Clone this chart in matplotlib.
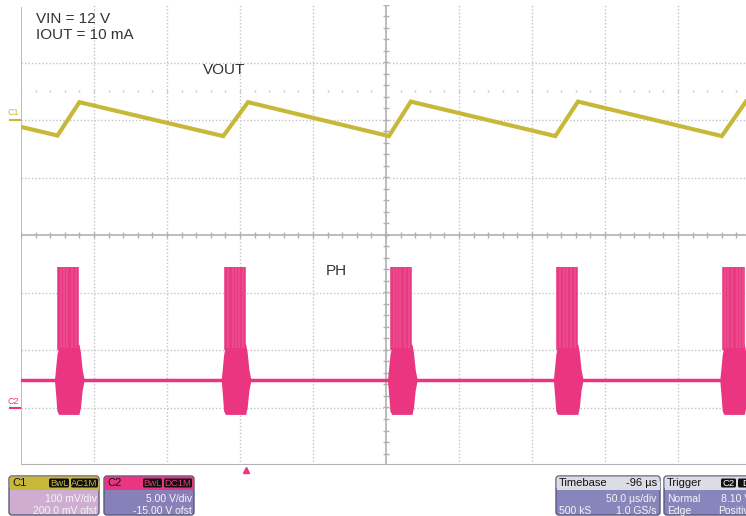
import numpy as np
import matplotlib
matplotlib.use("Agg")
import matplotlib.pyplot as plt
from matplotlib.patches import FancyBboxPatch, Rectangle

plt.rcParams["font.family"] = ["Liberation Sans", "DejaVu Sans"]

# =========================
# SCOPE SETTINGS
# =========================
c1_scale = 100.0      # mV/div
c1_offset = 200.0     # mV
c2_scale = 5.0        # V/div
c2_offset = -15.0     # V
time_per_div = 50.0   # us/div
trigger_time = -96.0  # us

# =========================
# DATA
# =========================
# C1 = VOUT ripple, time in us, value in mV
vout_t = [-250, -225, -210, -111.5, -94.5, 2, 17, 116, 131.5, 230, 246.5]
vout_mv = [-12, -27, 31, -28, 31, -28, 32, -28, 32, -28, 32]

# C2 = PH node, volts
ph_baseline = 2.4
ph_high = 12.2
burst_t = [-224.7, -110.5, 3.4, 117.0, 231.0]   # first switching pulse of each burst

# burst envelope relative to first pulse (us, V)
env_dt = [-2.4, -1.6, -0.7, 0.5, 14.4, 15.4, 16.6, 18.0]
env_top = [2.4, 3.4, 4.6, 5.4, 5.5, 4.8, 3.3, 2.4]
env_bot = [2.4, 1.2, -0.3, -0.6, -0.6, 0.0, 1.5, 2.4]
spike_dt = [0, 0.8, 1.6, 2.9, 3.7, 4.5, 5.3, 6.6, 7.4, 8.2, 9.0, 10.3, 11.1, 11.9, 13.1, 14.0]

c1_color = "#c8b83a"
c2_color = "#ea3580"
grid_color = "#c4c4c4"
axis_color = "#b0b0b0"


def c1_div(mv):
    return (np.asarray(mv) + c1_offset) / c1_scale


def c2_div(v):
    return (np.asarray(v) + c2_offset) / c2_scale


# =========================
# FIGURE
# =========================
W, H = 746, 516
fig = plt.figure(figsize=(W / 100, H / 100), dpi=100)
fig.patch.set_facecolor("white")

ax = fig.add_axes([21 / W, 51 / H, 730 / W, 460 / H])
ax.set_xlim(-5 * time_per_div, 5 * time_per_div)
ax.set_ylim(-4, 4)
ax.axis("off")

# grid
for k in range(-4, 5):
    if k == 0:
        continue
    ax.axvline(k * time_per_div, color=grid_color, lw=1, ls=(0, (1, 1.5)), zorder=1)
for k in range(-3, 4):
    if k == 0:
        continue
    ax.axhline(k, color=grid_color, lw=1, ls=(0, (1, 1.5)), zorder=1)

ax.axvline(0, color=axis_color, lw=1.2, zorder=1)
ax.axhline(0, color=axis_color, lw=1.2, zorder=1)
ax.plot([-250, -250], [-4, 3.95], color=axis_color, lw=1.2, zorder=1)
ax.axhline(-4, color=axis_color, lw=1.5, zorder=1)

# minor ticks on centre lines
minor_x = np.arange(-5, 5.01, 0.2) * time_per_div
ax.vlines(minor_x, -0.06, 0.06, color=axis_color, lw=1, zorder=1)
minor_y = np.arange(-4, 4.01, 0.2)
ax.hlines(minor_y, -1.8, 1.8, color=axis_color, lw=1, zorder=1)
ax.plot(minor_x, np.full(len(minor_x), 2.5), ls="none", marker="|",
        ms=2, color=grid_color, zorder=1)

# C1 trace
ax.plot(vout_t, c1_div(vout_mv), color=c1_color, lw=3, solid_joinstyle="miter", zorder=3)

# C2 trace
ax.plot([-250, 250], c2_div([ph_baseline, ph_baseline]), color=c2_color, lw=2.5, zorder=3)
for t0 in burst_t:
    tt = t0 + np.array(env_dt)
    ax.fill_between(tt, c2_div(env_top), c2_div(env_bot), color=c2_color, lw=0, zorder=3)
    ax.fill_between([t0 + spike_dt[0], t0 + spike_dt[-1]], c2_div(5.2), c2_div(ph_high),
                    color="#f391b9", lw=0, zorder=3)
    ax.vlines(t0 + np.array(spike_dt), c2_div(5.0), c2_div(ph_high),
              color=c2_color, lw=1.1, zorder=4)

# trigger marker
ax.plot([trigger_time], [-4.09], marker="^", ms=5, color=c2_color, clip_on=False, zorder=5)

# channel reference markers
ax.plot([-257.5, -251], [c1_offset / c1_scale] * 2, color=c1_color, lw=1.5, clip_on=False)
ax.plot([-257.5, -251], [c2_offset / c2_scale] * 2, color=c2_color, lw=1.5, clip_on=False)

# =========================
# OVERLAY (pixel coords)
# =========================
ov = fig.add_axes([0, 0, 1, 1])
ov.set_xlim(0, W)
ov.set_ylim(H, 0)
ov.axis("off")
ov.patch.set_alpha(0)

ov.text(8, 115, "C1", fontsize=6.5, color=c1_color)
ov.text(8, 404, "C2", fontsize=6.5, color=c2_color)

ov.text(36, 23, "VIN = 12 V", fontsize=11, color="#333333")
ov.text(36, 39, "IOUT = 10 mA", fontsize=11, color="#333333")
ov.text(203, 74, "VOUT", fontsize=11, color="#333333")
ov.text(326, 275, "PH", fontsize=11, color="#333333")


def info_box(x0, x1, head_color, body_color, head_text, head_text_color="#111111"):
    y0, y1, yh = 476, 515, 489
    ov.add_patch(FancyBboxPatch((x0, y0), x1 - x0, y1 - y0,
                                boxstyle="round,pad=0,rounding_size=3",
                                fc=body_color, ec="#5a5a78", lw=1))
    ov.add_patch(FancyBboxPatch((x0 + 0.5, y0 + 0.5), x1 - x0 - 1, yh - y0,
                                boxstyle="round,pad=0,rounding_size=2.5",
                                fc=head_color, ec="none"))
    ov.add_patch(Rectangle((x0 + 0.5, y0 + 5), x1 - x0 - 1, yh - y0 - 4.5,
                           fc=head_color, ec="none"))
    ov.text(x0 + 3, 486.5, head_text, fontsize=8, color=head_text_color)


def badge(x0, x1, label, color):
    ov.add_patch(FancyBboxPatch((x0, 478.5), x1 - x0, 9,
                                boxstyle="round,pad=0,rounding_size=1.5",
                                fc="#111111", ec="none"))
    ov.text((x0 + x1) / 2, 486, label, fontsize=6.8, color=color, ha="center")


body_kw = dict(fontsize=7.5, color="#f6f6f6")

info_box(9, 99, c1_color, "#ceadd0", "C1")
badge(49, 69, "BwL", c1_color)
badge(71, 98, "AC1M", c1_color)
ov.text(97, 502, f"{c1_scale:.0f} mV/div", ha="right", **body_kw)
ov.text(97, 514, f"{c1_offset:.1f} mV ofst", ha="right", **body_kw)

info_box(104, 194, c2_color, "#8880b8", "C2")
badge(143, 162, "BwL", c2_color)
badge(164, 192, "DC1M", c2_color)
ov.text(192, 502, f"{c2_scale:.2f} V/div", ha="right", **body_kw)
ov.text(192, 514, f"{c2_offset:.2f} V ofst", ha="right", **body_kw)

info_box(556, 660, "#dcdce4", "#8884bc", "Timebase")
ov.text(657, 486.5, f"{trigger_time:.0f} µs", fontsize=8, color="#111111", ha="right")
ov.text(657, 502, f"{time_per_div:.1f} µs/div", ha="right", **body_kw)
ov.text(559, 514, "500 kS", **body_kw)
ov.text(657, 514, "1.0 GS/s", ha="right", **body_kw)

# trigger box runs past the right edge of the screen, as on the scope capture
info_box(664, 770, "#dcdce4", "#8884bc", "Trigger")
badge(721, 736, "C2", "#ffffff")
badge(738, 760, "DC", "#ffffff")
ov.text(667, 502, "Normal", **body_kw)
ov.text(751, 502, "8.10 V", ha="right", **body_kw)
ov.text(667, 514, "Edge", **body_kw)
ov.text(755, 514, "Positive", ha="right", **body_kw)

fig.savefig("out.png", dpi=100)
